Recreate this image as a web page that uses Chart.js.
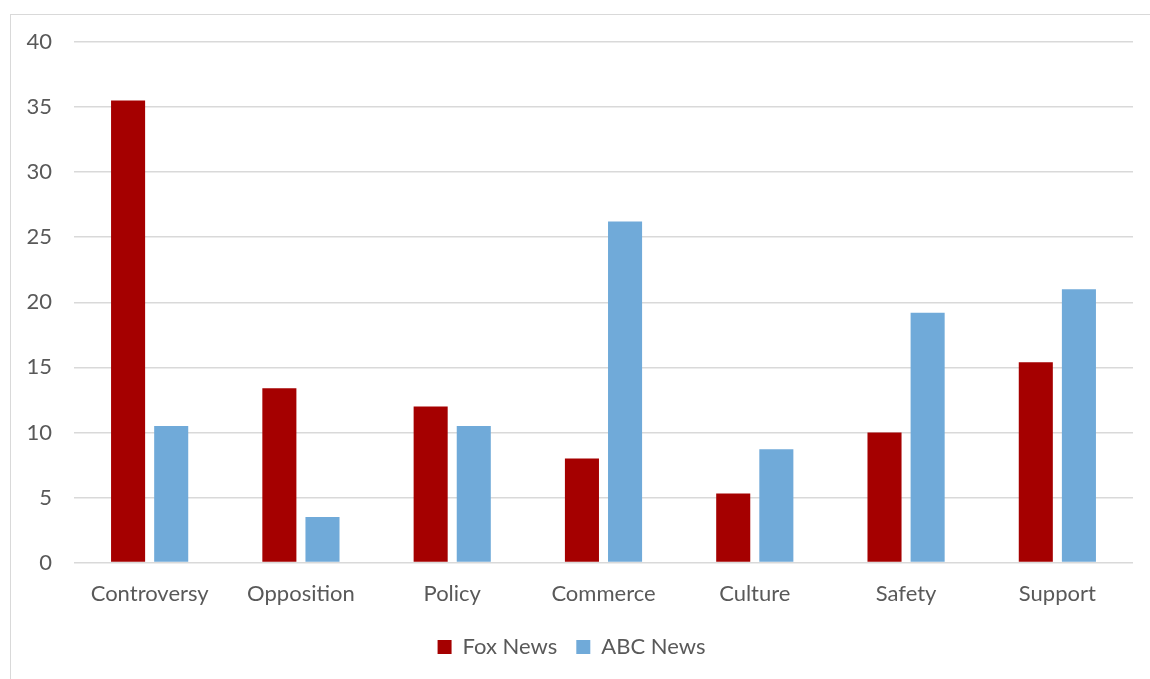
<!DOCTYPE html>
<html>
<head>
<meta charset="utf-8">
<script src="https://cdn.jsdelivr.net/npm/chart.js@4"></script>
<style>
  body { margin: 0; background: #fff; }
  #frame { position: absolute; left: 10px; top: 14px; width: 1160px; height: 700px; border: 1px solid #d9d9d9; }
  #wrap { position: absolute; left: 0; top: 0; width: 1150px; height: 679px; }
</style>
</head>
<body>
<div id="frame"></div>
<div id="wrap"><canvas id="chart"></canvas></div>
<script>
const categories = ['Controversy', 'Opposition', 'Policy', 'Commerce', 'Culture', 'Safety', 'Support'];
const foxNews = [35.5, 13.4, 12.0, 8.0, 5.3, 10.0, 15.4];
const abcNews = [10.5, 3.5, 10.5, 26.2, 8.7, 19.2, 21.0];

const textColor = '#595959';
const gridColor = '#d9d9d9';
const fontFamily = 'Lato, "Open Sans", sans-serif';

const ctx = document.getElementById('chart');

new Chart(ctx, {
    type: 'bar',
    data: {
        labels: categories,
        datasets: [{
            label: 'Fox News',
            data: foxNews,
            backgroundColor: '#a50000'
        }, {
            label: 'ABC News',
            data: abcNews,
            backgroundColor: '#70aad9'
        }]
    },
    options: {
        responsive: true,
        maintainAspectRatio: false,
        animation: false,
        categoryPercentage: 0.57,
        barPercentage: 0.79,
        layout: {
            padding: { left: 10, right: 17, top: 42, bottom: 11 }
        },
        plugins: {
            tooltip: { enabled: false },
            legend: {
                position: 'bottom',
                labels: {
                    color: textColor,
                    font: { family: fontFamily, size: 22 },
                    boxWidth: 14,
                    boxHeight: 14,
                    padding: 19
                }
            }
        },
        scales: {
            x: {
                grid: { display: false },
                border: { display: false },
                ticks: {
                    color: textColor,
                    font: { family: fontFamily, size: 22 },
                    padding: 10
                }
            },
            y: {
                min: 0,
                max: 40,
                ticks: {
                    stepSize: 5,
                    color: textColor,
                    font: { family: fontFamily, size: 22 },
                    padding: 22
                },
                grid: { color: gridColor, lineWidth: 1.5, drawTicks: false },
                border: { display: false },
                afterFit: (scale) => { scale.width = 64; }
            }
        }
    }
});
</script>
</body>
</html>
